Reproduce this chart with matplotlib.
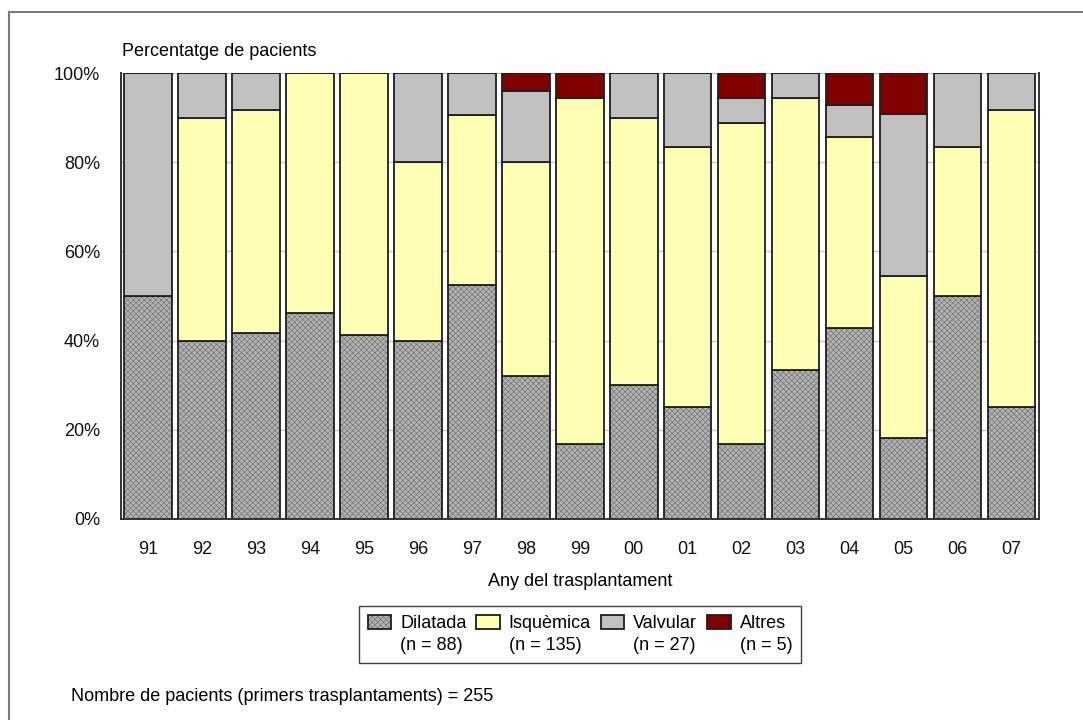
"""Stacked 100% bars: diagnosis at heart transplant by year."""
import numpy as np
import matplotlib
matplotlib.use("Agg")
import matplotlib.pyplot as plt
from matplotlib.lines import Line2D
from matplotlib.patches import Rectangle

plt.rcParams['font.family'] = ['Liberation Sans', 'DejaVu Sans']
plt.rcParams['hatch.linewidth'] = 0.5

years = ["91", "92", "93", "94", "95", "96", "97", "98", "99",
         "00", "01", "02", "03", "04", "05", "06", "07"]
# percentages per year
dilatada = [50.0, 40.0, 41.7, 46.2, 41.2, 40.0, 52.4, 32.0, 16.7,
            30.0, 25.0, 16.7, 33.3, 42.9, 18.2, 50.0, 25.0]
isquemica = [0.0, 50.0, 50.0, 53.8, 58.8, 40.0, 38.1, 48.0, 77.7,
             60.0, 58.3, 72.2, 61.1, 42.8, 36.3, 33.3, 66.7]
valvular = [50.0, 10.0, 8.3, 0.0, 0.0, 20.0, 9.5, 16.0, 0.0,
            10.0, 16.7, 5.5, 5.6, 7.2, 36.4, 16.7, 8.3]
altres = [0.0, 0.0, 0.0, 0.0, 0.0, 0.0, 0.0, 4.0, 5.6,
          0.0, 0.0, 5.6, 0.0, 7.1, 9.1, 0.0, 0.0]

series_names = ["Dilatada", "Isquèmica", "Valvular", "Altres"]
series_n = ["(n = 88)", "(n = 135)", "(n = 27)", "(n = 5)"]
y_ticks = [0, 20, 40, 60, 80, 100]

FS = 13
HATCH_COLOR = matplotlib.colors.to_rgba("#75758a")

fig = plt.figure(figsize=(10.83, 7.2), dpi=100)
ax = fig.add_axes([0.1117, 0.2792, 0.8473, 0.6194])

x = np.arange(len(years))
width = 0.88
edge = dict(edgecolor="#1e1e1e", linewidth=1.3)

styles = [
    dict(facecolor="#b4b4aa", hatch="xxxxxx", **edge),
    dict(facecolor="#ffffb3", **edge),
    dict(facecolor="#c0c0c0", **edge),
    dict(facecolor="#800000", **edge),
]

bottom = np.zeros(len(years))
handles = []
for vals, st in zip([dilatada, isquemica, valvular, altres], styles):
    vals = np.array(vals)
    bars = ax.bar(x, vals, width, bottom=bottom, zorder=2, **st)
    for b in bars:
        b._hatch_color = HATCH_COLOR
    bottom += vals
    h = Rectangle((0, 0), 1, 1, **st)
    h._hatch_color = HATCH_COLOR
    handles.append(h)

ax.set_xlim(-0.5, len(years) - 0.5)
ax.set_ylim(0, 100)
ax.set_yticks(y_ticks)
ax.set_yticklabels([f"{v}%" for v in y_ticks])
ax.set_xticks(x)
ax.set_xticklabels(years)
ax.tick_params(length=0, labelsize=FS, colors="#111111")
ax.tick_params(axis="y", pad=15)
ax.tick_params(axis="x", pad=16)
ax.yaxis.grid(True, color="#c8c8c8", linewidth=1.0, zorder=0)
ax.set_axisbelow(True)

for side in ["left", "right", "bottom"]:
    ax.spines[side].set_color("#333333")
    ax.spines[side].set_linewidth(1.4)
ax.spines["top"].set_visible(False)

ax.set_xlabel("Any del trasplantament", fontsize=FS, labelpad=11)

fig.text(0.113, 0.928, "Percentatge de pacients", fontsize=FS, va="center")
fig.text(0.066, 0.032, "Nombre de pacients (primers trasplantaments) = 255",
         fontsize=FS, va="center")

# legend: first row names with swatches, second row counts without swatches
blank = Rectangle((0, 0), 1, 1, fill=False, edgecolor="none", visible=False)
leg_handles, leg_labels = [], []
for h, name, n in zip(handles, series_names, series_n):
    leg_handles += [h, blank]
    leg_labels += [name, n]
leg = fig.legend(leg_handles, leg_labels, ncol=4, loc="center",
                 bbox_to_anchor=(0.5355, 0.1187), fontsize=FS,
                 frameon=True, fancybox=False, edgecolor="#111111",
                 handlelength=1.3, handleheight=0.8, handletextpad=0.5,
                 columnspacing=0.55, labelspacing=0.25, borderpad=0.5,
                 borderaxespad=0)
leg.get_frame().set_linewidth(1.0)

# outer chart-area frame (top and left edges visible)
fig.add_artist(Line2D([0.0083, 1.0], [0.983, 0.983], transform=fig.transFigure,
                      color="#7a7a7a", linewidth=1.5))
fig.add_artist(Line2D([0.0083, 0.0083], [0.0, 0.983], transform=fig.transFigure,
                      color="#7a7a7a", linewidth=1.5))

fig.savefig("out.png", dpi=100)
